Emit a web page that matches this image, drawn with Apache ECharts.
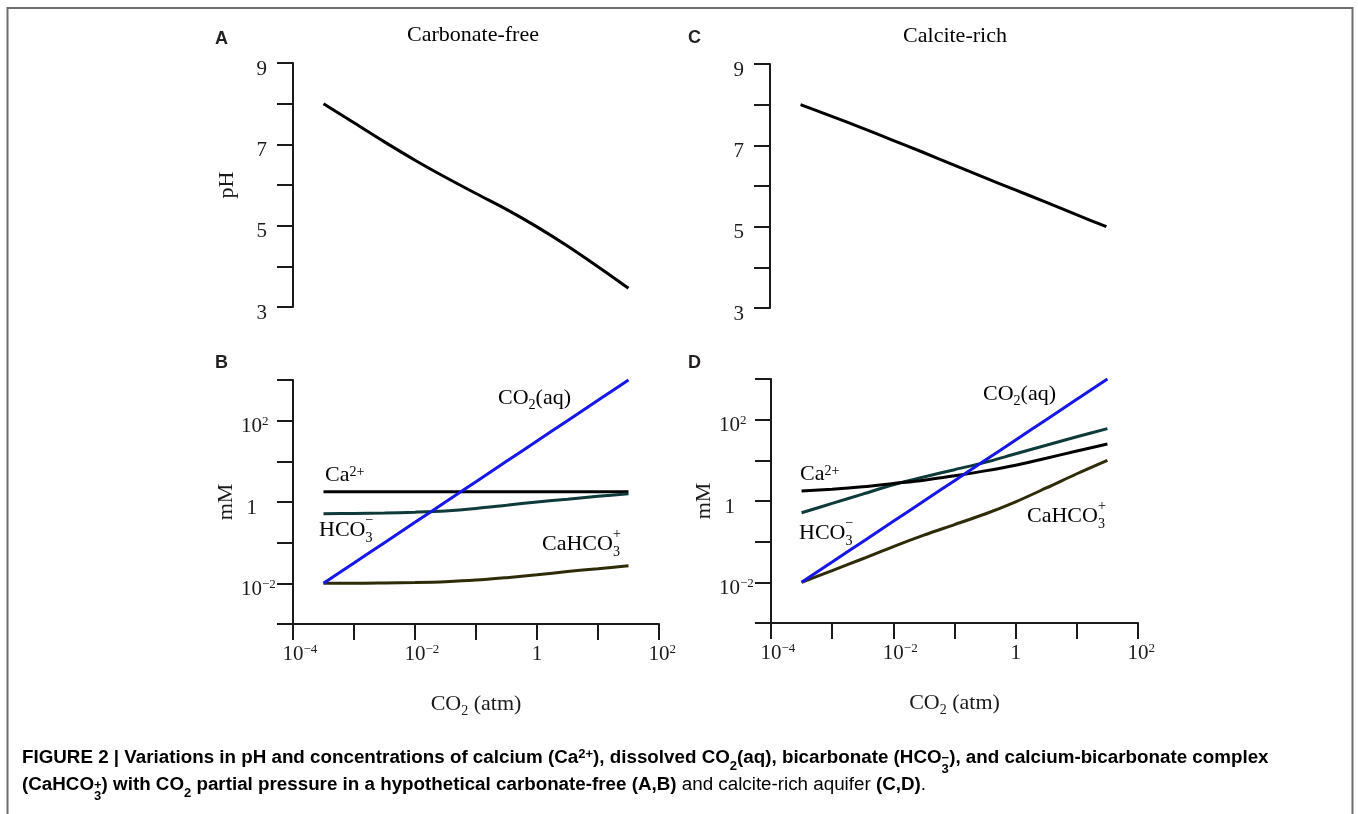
<!DOCTYPE html>
<html>
<head>
<meta charset="utf-8">
<title>pH and concentrations vs CO2</title>
<script src="https://cdn.jsdelivr.net/npm/echarts@6/dist/echarts.min.js"></script>
<style>
  html, body { margin: 0; padding: 0; background: #fff; }
  #chart { width: 1358px; height: 814px; }
</style>
</head>
<body>
<div id="chart"></div>
<script>
const pco2 = [0.000316, 0.001, 0.00316, 0.01, 0.0316, 0.1, 0.316, 1, 3.16, 10, 31.6];

// pH: carbonate-free (A) and calcite-rich (C)
const phFree    = [8.0, 7.53, 7.06, 6.61, 6.19, 5.79, 5.4, 4.97, 4.5, 3.99, 3.46];
const phCalcite = [8.0, 7.72, 7.43, 7.13, 6.83, 6.52, 6.21, 5.91, 5.61, 5.30, 5.0];

// concentrations (mM), carbonate-free (B)
const co2aqFree  = [0.01, 0.0316, 0.1, 0.316, 1, 3.16, 10, 31.6, 100, 316, 1000];
const caFree     = [1.78, 1.78, 1.78, 1.78, 1.78, 1.78, 1.78, 1.78, 1.78, 1.78, 1.78];
const hco3Free   = [0.513, 0.525, 0.537, 0.562, 0.603, 0.692, 0.832, 1.0, 1.175, 1.38, 1.585];
const cahco3Free = [0.01, 0.01, 0.0102, 0.0105, 0.011, 0.012, 0.0138, 0.0162, 0.0195, 0.0229, 0.0269];

// concentrations (mM), calcite-rich (D)
const co2aqCalc  = [0.01, 0.0316, 0.1, 0.316, 1, 3.16, 10, 31.6, 100, 316, 1000];
const caCalc     = [1.76, 1.95, 2.24, 2.69, 3.24, 4.17, 5.5, 7.6, 11.2, 17.0, 25.1];
const hco3Calc   = [0.513, 0.871, 1.48, 2.51, 3.89, 5.89, 8.91, 14.5, 23.4, 38.0, 60.3];
const cahco3Calc = [0.01, 0.0195, 0.038, 0.0759, 0.145, 0.263, 0.479, 0.955, 2.09, 4.68, 10.0];

// tick labels
const phTicks = [3, 5, 7, 9];
const xDecades = [-4, -2, 0, 2];
const yDecades = [-2, 0, 2];

const INK = '#1a1a1a';
const SERIF = '"Liberation Serif", "Times New Roman", serif';
const SANS = '"Liberation Sans", Arial, sans-serif';
const C_CO2 = '#1616e8', C_CA = '#000000', C_HCO3 = '#0e3a3a', C_CAHCO3 = '#2e2c08';

const pts = (xs, ys) => xs.map((x, i) => [x, ys[i]]);

// rich styles for serif text, all anchored to the line top
const tok = (size, padTop, extra) => Object.assign({
  fontFamily: SERIF, fontSize: size, lineHeight: size, color: INK,
  align: 'left', verticalAlign: 'top', padding: [padTop, 0, 0, 0]
}, extra || {});
const annRich = {
  n: tok(22, 10),
  sp: tok(14, 11),
  sb: tok(14, 21),
  sb0: tok(14, 22, { width: 0 }),
  spS: tok(14, 4)
};
const tickRich = {
  t: tok(21, 6),
  t1: tok(21, 6, { padding: [6, 5, 0, 0] }),
  tsp: tok(13, 5, { width: 0 })
};

const expText = e => (e < 0 ? '\u2212' + (-e) : String(e));
function decadeLabel(list, oneTok) {
  return function (v) {
    const e = Math.round(Math.log10(v));
    if (list.indexOf(e) < 0) return '';
    if (e === 0) return '{' + oneTok + '|1}';
    return '{t|10}{tsp|' + expText(e) + '}';
  };
}

const grids = [
  { left: 293, top: 63, width: 366, height: 244 },
  { left: 293, top: 380, width: 366, height: 244 },
  { left: 770, top: 64, width: 367, height: 244 },
  { left: 771, top: 379, width: 367, height: 244 }
];

const lineAxis = { onZero: false, lineStyle: { color: INK, width: 2 } };
const outTick = { show: true, inside: false, length: 16, lineStyle: { color: INK, width: 2 } };

function xAxisFor(gi, visible) {
  return {
    type: 'log', logBase: 10, gridIndex: gi, min: 0.0001, max: 100, interval: 1,
    show: visible,
    axisLine: lineAxis, axisTick: outTick,
    splitLine: { show: false }, minorTick: { show: false },
    axisLabel: { margin: 14, interval: 0, formatter: decadeLabel(xDecades, 't'), rich: tickRich },
    name: visible ? '{n|CO}{sb|2}{n| (atm)}' : '',
    nameLocation: 'middle', nameGap: 59,
    nameTextStyle: { rich: annRich }
  };
}
function phAxis(gi) {
  return {
    type: 'value', gridIndex: gi, min: 3, max: 9, interval: 1,
    axisLine: lineAxis, axisTick: outTick, splitLine: { show: false },
    axisLabel: {
      margin: 26, interval: 0, rich: tickRich,
      formatter: v => (phTicks.indexOf(v) >= 0 ? '{t|' + v + '}' : '')
    },
    name: gi === 0 ? 'pH' : '', nameLocation: 'middle', nameGap: 55,
    nameTextStyle: { fontFamily: SERIF, fontSize: 22, color: INK }
  };
}
function mmAxis(gi) {
  return {
    type: 'log', logBase: 10, gridIndex: gi, min: 0.001, max: 1000, interval: 1,
    axisLine: lineAxis, axisTick: outTick,
    splitLine: { show: false }, minorTick: { show: false },
    axisLabel: { margin: 31, interval: 0, formatter: decadeLabel(yDecades, 't1'), rich: tickRich },
    name: 'mM', nameLocation: 'middle', nameGap: 55,
    nameTextStyle: { fontFamily: SERIF, fontSize: 22, color: INK }
  };
}

function line(xi, yi, data, color) {
  return {
    type: 'line', xAxisIndex: xi, yAxisIndex: yi, data: data,
    symbol: 'none', smooth: 0.3, silent: true,
    lineStyle: { color: color, width: 3 }
  };
}

// text helpers for the overlay
function txt(x, y, text, rich, align) {
  return {
    type: 'text', x: x, y: y, silent: true,
    style: { text: text, rich: rich, align: align || 'left', verticalAlign: 'top' }
  };
}
function letter(x, y, s) {
  return {
    type: 'text', x: x, y: y, silent: true,
    style: { text: s, font: 'bold 18px ' + SANS, fill: '#231f20', verticalAlign: 'middle' }
  };
}

const capTok = (padTop, extra) => Object.assign({
  fontFamily: SANS, fontSize: 13, lineHeight: 13, fontWeight: 'bold', color: '#231f20',
  align: 'left', verticalAlign: 'top', padding: [padTop, 0, 0, 0]
}, extra || {});
const capRich = {
  b: capTok(6, { fontSize: 18.8, lineHeight: 18.8 }),
  r: capTok(6, { fontSize: 18.8, lineHeight: 18.8, fontWeight: 'normal', color: '#505050' }),
  bsp: capTok(6),
  bsb: capTok(18),
  bsb0: capTok(21, { width: 0 }),
  bspS: capTok(10)
};
const cap1 = '{b|FIGURE 2 | Variations in pH and concentrations of calcium (Ca}{bsp|2+}' +
  '{b|), dissolved CO}{bsb|2}{b|(aq), bicarbonate (HCO}{bsb0|3}{bspS|\u2212}' +
  '{b|), and calcium-bicarbonate complex}';
const cap2 = '{b|(CaHCO}{bsb0|3}{bspS|+}{b|) with CO}{bsb|2}' +
  '{b| partial pressure in a hypothetical carbonate-free (A,B)}' +
  '{r| and calcite-rich aquifer }{b|(C,D)}{r|.}';

const chart = echarts.init(document.getElementById('chart'));
chart.setOption({
  animation: false,
  grid: grids.map(g => Object.assign({ containLabel: false, outerBoundsMode: 'none' }, g)),
  xAxis: [xAxisFor(0, false), xAxisFor(1, true), xAxisFor(2, false), xAxisFor(3, true)],
  yAxis: [phAxis(0), mmAxis(1), phAxis(2), mmAxis(3)],
  series: [
    line(0, 0, pts(pco2, phFree), C_CA),
    line(1, 1, pts(pco2, caFree), C_CA),
    line(1, 1, pts(pco2, hco3Free), C_HCO3),
    line(1, 1, pts(pco2, cahco3Free), C_CAHCO3),
    line(1, 1, pts(pco2, co2aqFree), C_CO2),
    line(2, 2, pts(pco2, phCalcite), C_CA),
    line(3, 3, pts(pco2, hco3Calc), C_HCO3),
    line(3, 3, pts(pco2, caCalc), C_CA),
    line(3, 3, pts(pco2, cahco3Calc), C_CAHCO3),
    line(3, 3, pts(pco2, co2aqCalc), C_CO2)
  ],
  graphic: [
    {
      type: 'rect', silent: true, z: -1,
      shape: { x: 7.5, y: 8, width: 1345, height: 830 },
      style: { fill: 'none', stroke: '#6e6e6e', lineWidth: 2 }
    },
    letter(215, 39, 'A'), letter(215, 363, 'B'),
    letter(688, 38, 'C'), letter(688, 363, 'D'),
    txt(473, 14, '{n|Carbonate-free}', annRich, 'center'),
    txt(955, 15, '{n|Calcite-rich}', annRich, 'center'),
    txt(498, 377, '{n|CO}{sb|2}{n|(aq)}', annRich),
    txt(325, 454, '{n|Ca}{sp|2+}', annRich),
    txt(319, 509, '{n|HCO}{sb0|3}{spS|\u2212}', annRich),
    txt(542, 523, '{n|CaHCO}{sb0|3}{spS|+}', annRich),
    txt(983, 373, '{n|CO}{sb|2}{n|(aq)}', annRich),
    txt(800, 453, '{n|Ca}{sp|2+}', annRich),
    txt(799, 512, '{n|HCO}{sb0|3}{spS|\u2212}', annRich),
    txt(1027, 495, '{n|CaHCO}{sb0|3}{spS|+}', annRich),
    txt(22, 742, cap1, capRich),
    txt(22, 769, cap2, capRich)
  ]
});
</script>
</body>
</html>
